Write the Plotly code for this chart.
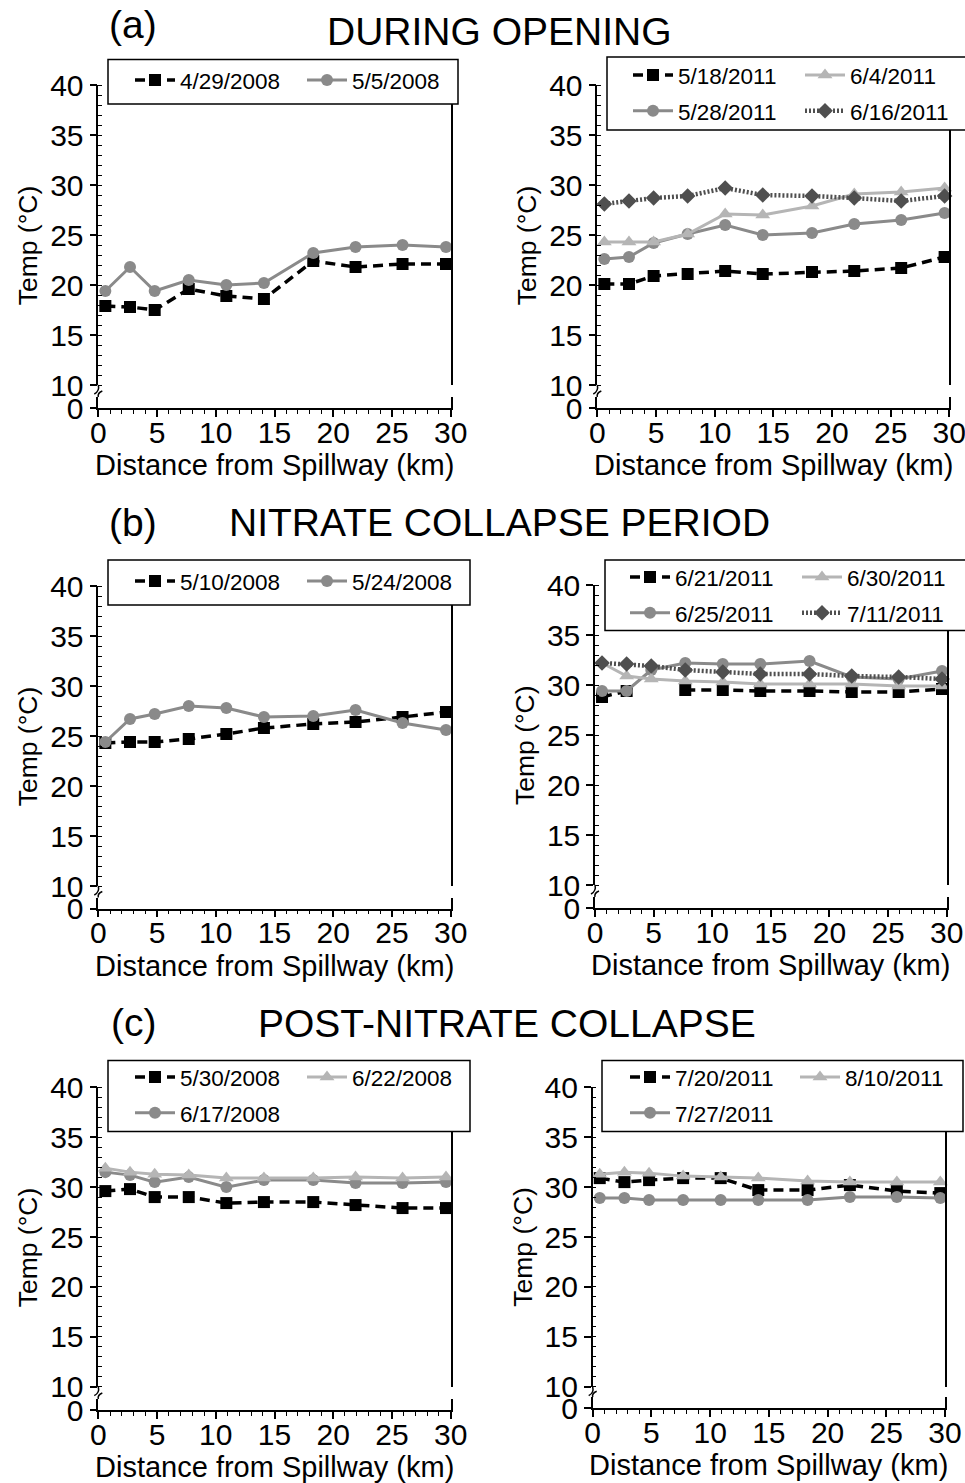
import plotly.graph_objects as go

W, H = 965, 1483

# Sampling stations, distance downstream of the spillway (km)
DIST_KM = [0.6, 2.7, 4.8, 7.7, 10.9, 14.1, 18.3, 21.9, 25.9, 29.6]

# (a) DURING OPENING
T_2008_04_29 = [17.9, 17.8, 17.5, 19.6, 18.9, 18.6, 22.4, 21.8, 22.1, 22.1]
T_2008_05_05 = [19.4, 21.8, 19.4, 20.5, 20.0, 20.2, 23.2, 23.8, 24.0, 23.8]
T_2011_05_18 = [20.1, 20.1, 20.9, 21.1, 21.4, 21.1, 21.3, 21.4, 21.7, 22.8]
T_2011_05_28 = [22.6, 22.8, 24.2, 25.1, 26.0, 25.0, 25.2, 26.1, 26.5, 27.2]
T_2011_06_04 = [24.3, 24.3, 24.3, 25.1, 27.1, 27.0, 27.9, 29.1, 29.3, 29.7]
T_2011_06_16 = [28.1, 28.4, 28.7, 28.9, 29.7, 29.0, 28.9, 28.7, 28.4, 28.9]

# (b) NITRATE COLLAPSE PERIOD
T_2008_05_10 = [24.3, 24.4, 24.4, 24.7, 25.2, 25.8, 26.2, 26.4, 26.9, 27.4]
T_2008_05_24 = [24.4, 26.7, 27.2, 28.0, 27.8, 26.9, 27.0, 27.6, 26.3, 25.6]
T_2011_06_21 = [28.8, 29.4, None, 29.5, 29.5, 29.4, 29.4, 29.3, 29.3, 29.6]
T_2011_06_25 = [29.4, 29.4, 31.5, 32.2, 32.1, 32.1, 32.4, 30.8, 30.6, 31.4]
T_2011_06_30 = [32.2, 30.9, 30.6, 30.4, 30.3, 30.1, 30.1, 30.1, 29.9, 29.9]
T_2011_07_11 = [32.2, 32.1, 31.9, 31.5, 31.3, 31.1, 31.1, 30.9, 30.8, 30.6]

# (c) POST-NITRATE COLLAPSE
T_2008_05_30 = [29.6, 29.8, 29.0, 29.0, 28.4, 28.5, 28.5, 28.2, 27.9, 27.9]
T_2008_06_17 = [31.5, 31.2, 30.5, 31.0, 30.0, 30.7, 30.7, 30.4, 30.4, 30.5]
T_2008_06_22 = [31.9, 31.5, 31.3, 31.2, 30.9, 30.9, 30.9, 31.0, 30.9, 31.0]
T_2011_07_20 = [30.9, 30.5, 30.7, 30.9, 30.9, 29.7, 29.7, 30.2, 29.6, 29.4]
T_2011_07_27 = [28.9, 28.9, 28.7, 28.7, 28.7, 28.7, 28.7, 29.0, 29.0, 28.9]
T_2011_08_10 = [31.3, 31.5, 31.4, 31.1, 31.0, 30.9, 30.6, 30.5, 30.5, 30.5]

SECTION_LETTERS = ["(a)", "(b)", "(c)"]
SECTION_TITLES = ["DURING OPENING", "NITRATE COLLAPSE PERIOD", "POST-NITRATE COLLAPSE"]
X_TITLE = "Distance from Spillway (km)"
Y_TITLE = "Temp (°C)"
X_TICKS = [0, 5, 10, 15, 20, 25, 30]
Y_TICKS = [10, 15, 20, 25, 30, 35, 40]

FONT = "Liberation Sans, Arial, Helvetica, sans-serif"

STYLES = {
    "square": dict(color="#000000", dash="10px,6px", width=3.5, symbol="square", size=12),
    "circle": dict(color="#8a8a8a", dash="solid", width=3, symbol="circle", size=12),
    "triangle": dict(color="#b5b5b5", dash="solid", width=3, symbol="triangle-up", size=13),
    "diamond": dict(color="#4f4f4f", dash="2px,2px", width=4.5, symbol="diamond", size=12),
}

# Each panel: series as (label, temps, style, legend column, legend row)
PANELS = [
    dict(series=[("4/29/2008", T_2008_04_29, "square", 0, 0),
                 ("5/5/2008", T_2008_05_05, "circle", 1, 0)],
         xl=98.3, xr=450.7, y40=85, y10=385, y0=408,
         box=(108, 59.5, 458, 104), text_x=(180, 352), rows=(80, 115)),
    dict(series=[("5/18/2011", T_2011_05_18, "square", 0, 0),
                 ("5/28/2011", T_2011_05_28, "circle", 0, 1),
                 ("6/4/2011", T_2011_06_04, "triangle", 1, 0),
                 ("6/16/2011", T_2011_06_16, "diamond", 1, 1)],
         xl=597.3, xr=949.3, y40=85, y10=385, y0=408,
         box=(607, 57, 990, 130), text_x=(678, 850), rows=(75, 111)),
    dict(series=[("5/10/2008", T_2008_05_10, "square", 0, 0),
                 ("5/24/2008", T_2008_05_24, "circle", 1, 0)],
         xl=98.3, xr=450.7, y40=586, y10=886, y0=908.5,
         box=(108, 560, 470, 605), text_x=(180, 352), rows=(581, 616)),
    dict(series=[("6/21/2011", T_2011_06_21, "square", 0, 0),
                 ("6/25/2011", T_2011_06_25, "circle", 0, 1),
                 ("6/30/2011", T_2011_06_30, "triangle", 1, 0),
                 ("7/11/2011", T_2011_07_11, "diamond", 1, 1)],
         xl=595, xr=946.7, y40=585, y10=885, y0=908,
         box=(605, 560, 990, 630.5), text_x=(675, 847), rows=(577, 612)),
    dict(series=[("5/30/2008", T_2008_05_30, "square", 0, 0),
                 ("6/17/2008", T_2008_06_17, "circle", 0, 1),
                 ("6/22/2008", T_2008_06_22, "triangle", 1, 0)],
         xl=98.3, xr=450.7, y40=1087.3, y10=1386.7, y0=1410,
         box=(108, 1060.5, 470, 1131.5), text_x=(180, 352), rows=(1077, 1112)),
    dict(series=[("7/20/2011", T_2011_07_20, "square", 0, 0),
                 ("7/27/2011", T_2011_07_27, "circle", 0, 1),
                 ("8/10/2011", T_2011_08_10, "triangle", 1, 0)],
         xl=592.7, xr=945, y40=1087.3, y10=1386.7, y0=1408.3,
         box=(602, 1060.5, 963, 1131.5), text_x=(675, 845), rows=(1077, 1112)),
]

TITLE_ROWS = [(24, 31), (522, 522), (1022, 1023)]
TITLE_X = [500, 499, 507]


def px(x):
    return x / W


def py(y):
    return 1 - y / H


LEG_FONT = 22.5
LEG_ITEMWIDTH = 40
LEG_TEXTGAP = LEG_ITEMWIDTH + 10
LEG_FIRST_CENTER = (LEG_FONT * 1.3 + 3) / 2 + 5

fig = go.Figure()
layout = dict(
    width=W, height=H, margin=dict(l=0, r=0, t=0, b=0, autoexpand=False),
    paper_bgcolor="white", plot_bgcolor="white",
    font=dict(family=FONT, color="black"),
    showlegend=True,
)
shapes = []
annotations = []
legend_count = 0

for i, p in enumerate(PANELS):
    xn = i + 1
    ylo_n = 2 * i + 1
    yhi_n = 2 * i + 2
    xname = "x" if xn == 1 else f"x{xn}"
    ylo_name = "y" if ylo_n == 1 else f"y{ylo_n}"
    yhi_name = f"y{yhi_n}"
    gap_top = p["y0"] - 11

    axis_common = dict(showline=True, linecolor="black", linewidth=1.5,
                       showgrid=False, zeroline=False, fixedrange=True, automargin=False,
                       tickcolor="black", tickwidth=1.5, ticklabeloverflow="allow",
                       tickfont=dict(size=30, family=FONT, color="black"))

    layout["xaxis" if xn == 1 else f"xaxis{xn}"] = dict(
        domain=[px(p["xl"]), px(p["xr"])], range=[0, 30], anchor=ylo_name,
        tickmode="array", tickvals=X_TICKS, ticks="outside", ticklen=7,
        ticklabelstandoff=-10,
        minor=dict(dtick=1, tick0=0, ticks="outside", ticklen=4, tickwidth=1.2, tickcolor="black"),
        **axis_common)
    layout["yaxis" if ylo_n == 1 else f"yaxis{ylo_n}"] = dict(
        domain=[py(p["y0"]), py(gap_top)], range=[0, 1.1], anchor=xname,
        tickmode="array", tickvals=[0], ticks="outside", ticklen=7, mirror=True,
        **axis_common)
    layout[f"yaxis{yhi_n}"] = dict(
        domain=[py(p["y10"]), py(p["y40"])], range=[10, 40], anchor=xname,
        tickmode="array", tickvals=Y_TICKS, ticks="outside", ticklen=7, mirror=True,
        minor=dict(dtick=1, tick0=10, ticks="inside", ticklen=4, tickwidth=1.2, tickcolor="black"),
        **axis_common)

    # empty trace so the lower (zero) segment gets its own subplot
    fig.add_trace(go.Scatter(x=[], y=[], xaxis=xname, yaxis=ylo_name,
                             showlegend=False, hoverinfo="skip"))

    # legend box
    bx0, by0, bx1, by1 = p["box"]
    shapes.append(dict(type="rect", xref="paper", yref="paper",
                       x0=px(bx0), x1=px(bx1), y0=py(by1), y1=py(by0),
                       line=dict(color="black", width=1.5), fillcolor="white", layer="above"))

    # one legend per column of entries
    legend_names = []
    for c in range(2):
        legend_count += 1
        lname = "legend" if legend_count == 1 else f"legend{legend_count}"
        legend_names.append(lname)
        layout[lname] = dict(
            x=px(p["text_x"][c] - LEG_TEXTGAP), xanchor="left",
            y=py(p["rows"][0] - LEG_FIRST_CENTER), yanchor="top",
            bgcolor="rgba(0,0,0,0)", borderwidth=0, itemwidth=LEG_ITEMWIDTH,
            orientation="v", traceorder="grouped", tracegroupgap=3.5,
            font=dict(size=LEG_FONT, family=FONT, color="black"),
        )

    for (label, temps, style, lcol, lrow) in p["series"]:
        s = STYLES[style]
        fig.add_trace(go.Scatter(
            x=DIST_KM, y=temps, name=label, mode="lines+markers",
            xaxis=xname, yaxis=yhi_name, cliponaxis=False, connectgaps=False,
            line=dict(color=s["color"], dash=s["dash"], width=s["width"]),
            marker=dict(symbol=s["symbol"], size=s["size"], color=s["color"],
                        line=dict(width=0)),
            legend=legend_names[lcol], legendgroup=f"{i}-{label}", legendrank=lrow + 1,
            hoverinfo="x+y+name",
        ))

    # axis break marks on the left axis
    xa = p["xl"]
    shapes.append(dict(type="path", xref="paper", yref="paper",
                       path=f"M {px(xa)},{py(p['y10'])} Q {px(xa + 1.5)},{py(p['y10'] + 6)} {px(xa - 4)},{py(p['y10'] + 9)}",
                       line=dict(color="black", width=1.5), layer="above"))
    shapes.append(dict(type="path", xref="paper", yref="paper",
                       path=f"M {px(xa)},{py(gap_top)} Q {px(xa - 1)},{py(gap_top - 4)} {px(xa + 4)},{py(gap_top - 6)}",
                       line=dict(color="black", width=1.5), layer="above"))

    # axis titles
    annotations.append(dict(text=X_TITLE, xref="paper", yref="paper",
                            x=px((p["xl"] + p["xr"]) / 2), y=py(p["y0"] + 57),
                            xanchor="center", yanchor="middle", showarrow=False,
                            font=dict(size=29, family=FONT, color="black")))
    annotations.append(dict(text=Y_TITLE, xref="paper", yref="paper",
                            x=px(p["xl"] - 70), y=py((p["y40"] + p["y10"]) / 2 + 10),
                            xanchor="center", yanchor="middle", showarrow=False, textangle=-90,
                            font=dict(size=26.5, family=FONT, color="black")))

for r in range(3):
    ly, ty = TITLE_ROWS[r]
    annotations.append(dict(text=SECTION_LETTERS[r], xref="paper", yref="paper",
                            x=px(133), y=py(ly), xanchor="center", yanchor="middle",
                            showarrow=False, font=dict(size=39, family=FONT, color="black")))
    annotations.append(dict(text=SECTION_TITLES[r], xref="paper", yref="paper",
                            x=px(TITLE_X[r]), y=py(ty), xanchor="center", yanchor="middle",
                            showarrow=False, font=dict(size=39, family=FONT, color="black")))

layout["shapes"] = shapes
layout["annotations"] = annotations
fig.update_layout(**layout)
fig.write_html("out.html")
